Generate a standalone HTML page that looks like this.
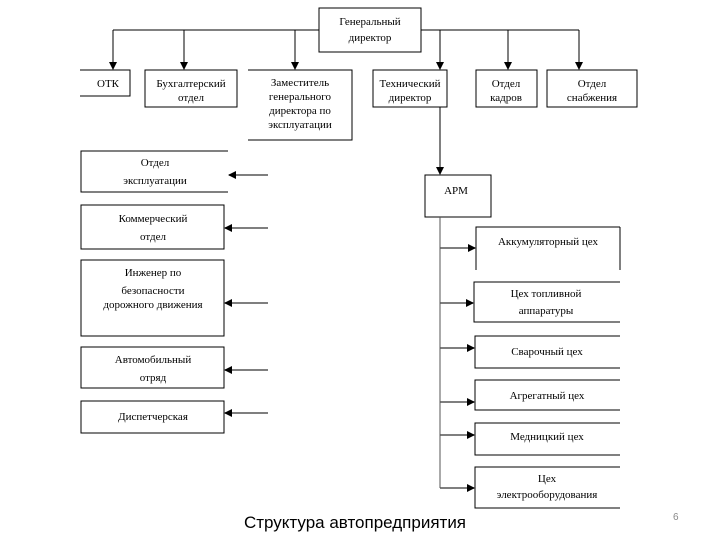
<!DOCTYPE html>
<html><head><meta charset="utf-8"><style>
body{margin:0;background:#fff;width:720px;height:540px;overflow:hidden;position:relative;font-family:"Liberation Serif",serif;}
svg{position:absolute;left:0;top:0}
.t{font-family:"Liberation Serif",serif;font-size:11px;fill:#000;text-anchor:middle}
</style></head><body>
<svg width="720" height="540" viewBox="0 0 720 540">
<defs><marker id="a" markerWidth="8" markerHeight="8" refX="7" refY="4" orient="auto" markerUnits="userSpaceOnUse"><path d="M0,0 L8,4 L0,8z" fill="#000"/></marker></defs>
<g stroke="#000" stroke-width="1" fill="none">
<rect x="319" y="8" width="102" height="44"/>
<line x1="113" y1="30" x2="319" y2="30"/><line x1="421" y1="30" x2="579" y2="30"/>
<line x1="113" y1="30" x2="113" y2="69" marker-end="url(#a)"/>
<line x1="184" y1="30" x2="184" y2="69" marker-end="url(#a)"/>
<line x1="295" y1="30" x2="295" y2="69" marker-end="url(#a)"/>
<line x1="440" y1="30" x2="440" y2="69" marker-end="url(#a)"/>
<line x1="508" y1="30" x2="508" y2="69" marker-end="url(#a)"/>
<line x1="579" y1="30" x2="579" y2="69" marker-end="url(#a)"/>
<path d="M80,70 H130 V96 H80"/>
<rect x="145" y="70" width="92" height="37"/>
<path d="M248,70 H352 V140 H248"/>
<rect x="373" y="70" width="74" height="37"/>
<rect x="476" y="70" width="61" height="37"/>
<rect x="547" y="70" width="90" height="37"/>
<line x1="440" y1="107" x2="440" y2="174" marker-end="url(#a)"/>
<rect x="425" y="175" width="66" height="42"/>
<line x1="440" y1="217" x2="440" y2="488" stroke="#555"/>
<path d="M228,151 H81 V192 H228"/>
<rect x="81" y="205" width="143" height="44"/>
<rect x="81" y="260" width="143" height="76"/>
<rect x="81" y="347" width="143" height="41"/>
<rect x="81" y="401" width="143" height="32"/>
<g stroke="#555" stroke-width="1.5">
<line x1="268" y1="175" x2="229" y2="175" marker-end="url(#a)"/>
<line x1="268" y1="228" x2="225" y2="228" marker-end="url(#a)"/>
<line x1="268" y1="303" x2="225" y2="303" marker-end="url(#a)"/>
<line x1="268" y1="370" x2="225" y2="370" marker-end="url(#a)"/>
<line x1="268" y1="413" x2="225" y2="413" marker-end="url(#a)"/>
<line x1="440" y1="248" x2="475" y2="248" marker-end="url(#a)"/>
<line x1="440" y1="303" x2="473" y2="303" marker-end="url(#a)"/>
<line x1="440" y1="348" x2="474" y2="348" marker-end="url(#a)"/>
<line x1="440" y1="402" x2="474" y2="402" marker-end="url(#a)"/>
<line x1="440" y1="435" x2="474" y2="435" marker-end="url(#a)"/>
<line x1="440" y1="488" x2="474" y2="488" marker-end="url(#a)"/>
</g>
<path d="M620,227 H476 V270"/><path d="M620,270 V227"/>
<path d="M620,282 H474 V322 H620"/>
<path d="M620,336 H475 V368 H620"/>
<path d="M620,380 H475 V410 H620"/>
<path d="M620,423 H475 V455 H620"/>
<path d="M620,467 H475 V508 H620"/>
</g>
<text class="t" x="370" y="25" font-size="12">Генеральный</text>
<text class="t" x="370" y="41" font-size="12">директор</text>
<text class="t" x="108" y="87">ОТК</text>
<text class="t" x="191" y="87">Бухгалтерский</text><text class="t" x="191" y="101">отдел</text>
<text class="t" x="300" y="86">Заместитель</text><text class="t" x="300" y="100">генерального</text><text class="t" x="300" y="114">директора по</text><text class="t" x="300" y="128">эксплуатации</text>
<text class="t" x="410" y="87">Технический</text><text class="t" x="410" y="101">директор</text>
<text class="t" x="506" y="87">Отдел</text><text class="t" x="506" y="101">кадров</text>
<text class="t" x="592" y="87">Отдел</text><text class="t" x="592" y="101">снабжения</text>
<text class="t" x="155" y="166" font-size="12">Отдел</text><text class="t" x="155" y="184" font-size="12">эксплуатации</text>
<text class="t" x="153" y="222" font-size="12">Коммерческий</text><text class="t" x="153" y="240" font-size="12">отдел</text>
<text class="t" x="153" y="276" font-size="12">Инженер по</text><text class="t" x="153" y="294" font-size="12">безопасности</text><text class="t" x="153" y="308" font-size="12">дорожного движения</text>
<text class="t" x="153" y="363" font-size="12">Автомобильный</text><text class="t" x="153" y="381" font-size="12">отряд</text>
<text class="t" x="153" y="420" font-size="12">Диспетчерская</text>
<text class="t" x="456" y="194" font-size="12">АРМ</text>
<text class="t" x="548" y="245" font-size="12">Аккумуляторный цех</text>
<text class="t" x="546" y="297" font-size="12">Цех топливной</text><text class="t" x="546" y="314" font-size="12">аппаратуры</text>
<text class="t" x="547" y="355" font-size="12">Сварочный цех</text>
<text class="t" x="547" y="399" font-size="12">Агрегатный цех</text>
<text class="t" x="547" y="440" font-size="12">Медницкий цех</text>
<text class="t" x="547" y="482" font-size="12">Цех</text><text class="t" x="547" y="498" font-size="12">электрооборудования</text>
<text x="355" y="528" text-anchor="middle" font-family="Liberation Sans,sans-serif" font-size="17" fill="#000">Структура автопредприятия</text>
<text x="673" y="520" font-family="Liberation Sans,sans-serif" font-size="10" fill="#888">6</text>
</svg>
</body></html>
